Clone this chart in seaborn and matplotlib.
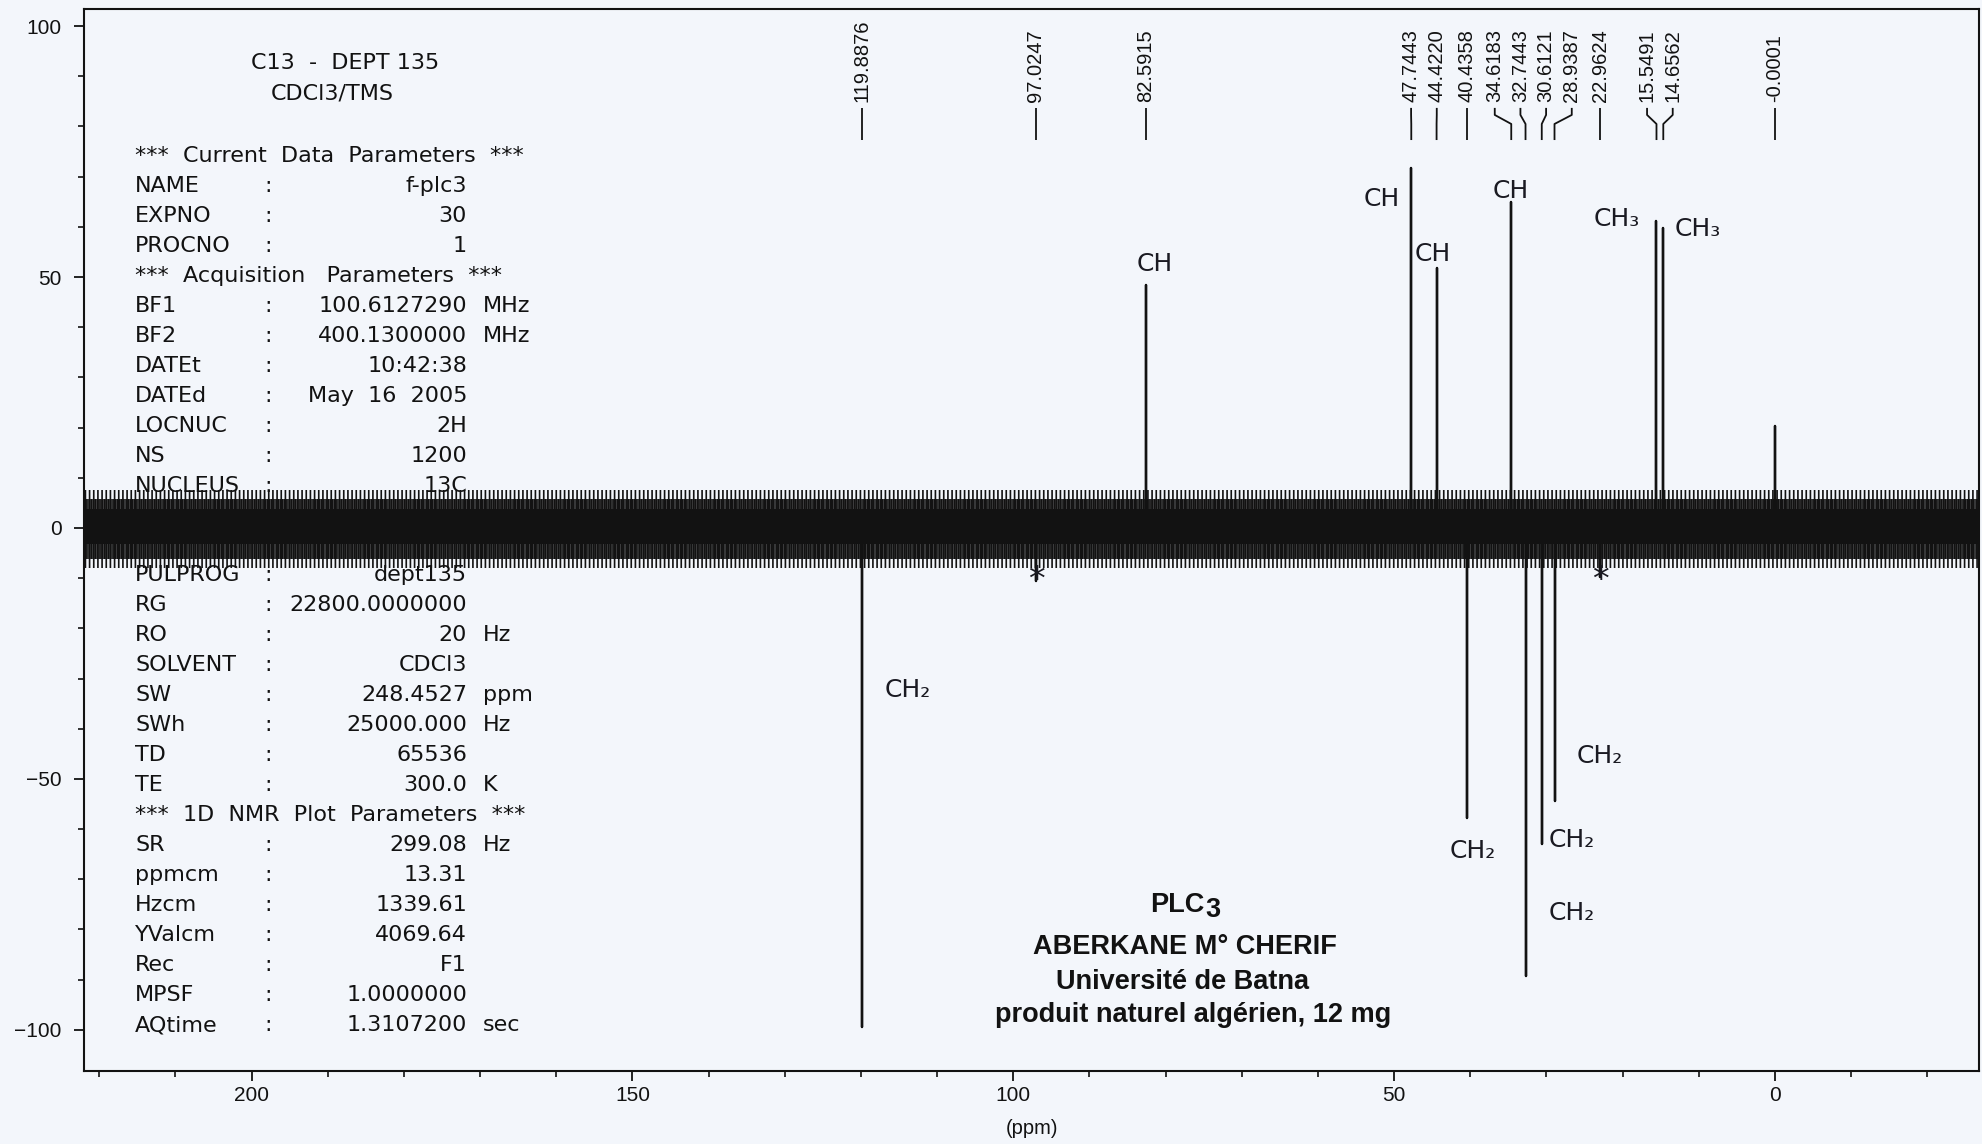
import matplotlib
matplotlib.use("Agg")
import matplotlib.pyplot as plt
from matplotlib.ticker import MultipleLocator, FixedLocator
import numpy as np
import pandas as pd
import seaborn as sns

# ---------------- spectrum data ----------------
peak_ppm = [119.8876, 97.0247, 82.5915, 47.7443, 44.4220, 40.4358, 34.6183,
            32.7443, 30.6121, 28.9387, 22.9624, 15.5491, 14.6562, -0.0001]
peak_int = [-99.5, -10.5, 48.5, 71.7, 51.8, -57.8, 64.9,
            -89.3, -63.0, -54.3, -9.7, 61.1, 59.8, 20.3]
multiplicity = ["CH₂", "", "CH", "CH", "CH", "CH₂", "CH",
                "CH₂", "CH₂", "CH₂", "", "CH₃", "CH₃", ""]
artefact_ppm = [97.0247, 22.9624]

x_ticks = [200, 150, 100, 50, 0]
y_ticks = [100, 50, 0, -50, -100]

title_lines = ["C13  -  DEPT 135", "CDCl3/TMS"]
block_1 = [
    ("***  Current  Data  Parameters  ***", None, None, None),
    ("NAME", ":", "f-plc3", ""),
    ("EXPNO", ":", "30", ""),
    ("PROCNO", ":", "1", ""),
    ("***  Acquisition   Parameters  ***", None, None, None),
    ("BF1", ":", "100.6127290", "MHz"),
    ("BF2", ":", "400.1300000", "MHz"),
    ("DATEt", ":", "10:42:38", ""),
    ("DATEd", ":", "May  16  2005", ""),
    ("LOCNUC", ":", "2H", ""),
    ("NS", ":", "1200", ""),
    ("NUCLEUS", ":", "13C", ""),
]
block_2 = [
    ("PULPROG", ":", "dept135", ""),
    ("RG", ":", "22800.0000000", ""),
    ("RO", ":", "20", "Hz"),
    ("SOLVENT", ":", "CDCl3", ""),
    ("SW", ":", "248.4527", "ppm"),
    ("SWh", ":", "25000.000", "Hz"),
    ("TD", ":", "65536", ""),
    ("TE", ":", "300.0", "K"),
    ("***  1D  NMR  Plot  Parameters  ***", None, None, None),
    ("SR", ":", "299.08", "Hz"),
    ("ppmcm", ":", "13.31", ""),
    ("Hzcm", ":", "1339.61", ""),
    ("YValcm", ":", "4069.64", ""),
    ("Rec", ":", "F1", ""),
    ("MPSF", ":", "1.0000000", ""),
    ("AQtime", ":", "1.3107200", "sec"),
]
sample_lines = ["ABERKANE M° CHERIF", "Université de Batna",
                "produit naturel algérien, 12 mg"]

# ---------------- style ----------------
sns.set_theme(style="ticks")
ink = "#121212"
paper = "#f3f6fb"
plt.rcParams["font.family"] = ["DejaVu Sans"]
plt.rcParams["hatch.linewidth"] = 1.2
plt.rcParams["hatch.color"] = ink

fig = plt.figure(figsize=(19.83, 11.44), dpi=100, facecolor=paper)
ax = fig.add_axes([0.0424, 0.0638, 0.9556, 0.9283])
ax.set_facecolor(paper)

# baseline noise band: dense core with a ragged-looking fringe
ax.axhspan(-8.0, 7.6, facecolor="none", edgecolor=ink, hatch="|" * 4, lw=0, zorder=1)
ax.axhspan(-6.2, 5.8, facecolor="none", edgecolor=ink, hatch="|" * 9, lw=0, zorder=1)
ax.axhspan(-3.2, 3.8, facecolor=ink, lw=0, zorder=1.5)

# stick spectrum
rows = []
for p, h in sorted(zip(peak_ppm, peak_int), key=lambda t: -t[0]):
    rows += [(p, 0.0), (p, h), (p, 0.0)]
spec = pd.DataFrame(rows, columns=["ppm", "intensity"])
sns.lineplot(data=spec, x="ppm", y="intensity", sort=False, estimator=None,
             color=ink, lw=1.7, ax=ax, zorder=2)

ax.set_xlim(222.0, -26.8)
ax.set_ylim(-108.2, 103.4)

# axes, ticks
for s in ax.spines.values():
    s.set_color(ink)
    s.set_linewidth(1.5)
ax.xaxis.set_major_locator(FixedLocator(x_ticks))
ax.yaxis.set_major_locator(FixedLocator(y_ticks))
ax.xaxis.set_minor_locator(MultipleLocator(10))
ax.yaxis.set_minor_locator(MultipleLocator(10))
ax.set_xticklabels([str(v) for v in x_ticks])
ax.set_yticklabels(["−" + str(-v) if v < 0 else str(v) for v in y_ticks])
ax.tick_params(which="major", direction="out", length=7, width=1.3, colors=ink,
               labelsize=15, labelcolor=ink)
ax.tick_params(axis="y", which="major", pad=9)
ax.tick_params(axis="x", which="major", pad=4)
ax.tick_params(which="minor", direction="out", length=4, width=1.2, colors=ink)
for lab in ax.get_xticklabels() + ax.get_yticklabels():
    lab.set_family(["Liberation Sans", "DejaVu Sans"])
ax.set_xlabel("(ppm)", fontsize=14.5, color=ink, labelpad=10,
              family=["Liberation Sans", "DejaVu Sans"])
ax.set_ylabel("")

# peak position labels, spread apart where crowded
def spread(vals, gap):
    groups = [[v] for v in sorted(vals, reverse=True)]
    def place(g):
        c = np.mean(g)
        n = len(g)
        return [c + gap * ((n - 1) / 2 - i) for i in range(n)]
    changed = True
    while changed:
        changed = False
        for i in range(len(groups) - 1):
            a, b = place(groups[i]), place(groups[i + 1])
            if a[-1] - b[0] < gap:
                groups[i] = groups[i] + groups[i + 1]
                del groups[i + 1]
                changed = True
                break
    out = {}
    for g in groups:
        for v, pos in zip(g, place(g)):
            out[v] = pos
    return out

label_pos = spread(peak_ppm, 3.37)
y_txt, y_a, y_b, y_c, y_d = 84.9, 83.7, 82.3, 80.5, 77.3
for p in peak_ppm:
    lx = label_pos[p]
    ax.text(lx, y_txt, f"{p:.4f}", rotation=90, ha="center", va="bottom",
            fontsize=14.5, color=ink,
            family=["Liberation Sans Narrow", "Liberation Sans"])
    ax.plot([lx, lx, p, p], [y_a, y_b, y_c, y_d], color=ink, lw=1.3,
            solid_capstyle="butt")

# hand-written multiplicity notes
hand_layout = {119.8876: (-6.0, -32.3), 82.5915: (-1.2, 52.6),
               47.7443: (3.9, 65.5), 44.4220: (0.5, 54.6),
               40.4358: (-0.8, -64.3), 34.6183: (0.0, 67.1),
               32.7443: (-6.1, -76.7), 30.6121: (-4.0, -62.2),
               28.9387: (-6.0, -45.4), 15.5491: (5.2, 61.6),
               14.6562: (-4.5, 59.6)}
hand_font = dict(fontsize=18, color="#1a1a22", ha="center", va="center",
                 family=["DejaVu Sans"])
for p, m in zip(peak_ppm, multiplicity):
    if m:
        dx, y = hand_layout[p]
        ax.text(p + dx, y, m, **hand_font)
for p in artefact_ppm:
    ax.text(p, -10.5, "*", fontsize=24, color="#1a1a22", ha="center", va="center",
            family=["DejaVu Sans"])

# parameter listing
block_font = dict(fontsize=16, color=ink, family=["DejaVu Sans"])
def to_frac(px_y):
    return (1071 - px_y) / 1062

ax.text(0.1377, to_frac(69), title_lines[0], transform=ax.transAxes,
        ha="center", va="baseline", **block_font)
ax.text(0.1309, to_frac(99), title_lines[1], transform=ax.transAxes,
        ha="center", va="baseline", **block_font)

def draw_block(rows_, first_px):
    for i, (key, colon, val, unit) in enumerate(rows_):
        yb = to_frac(first_px + 30 * i + 7)
        ax.text(0.0269, yb, key, transform=ax.transAxes, ha="left",
                va="baseline", **block_font)
        if colon is None:
            continue
        ax.text(0.0971, yb, colon, transform=ax.transAxes, ha="center",
                va="baseline", **block_font)
        ax.text(0.2021, yb, val, transform=ax.transAxes, ha="right",
                va="baseline", **block_font)
        if unit:
            ax.text(0.2106, yb, unit, transform=ax.transAxes, ha="left",
                    va="baseline", **block_font)

draw_block(block_1, 155)
draw_block(block_2, 574)

# sample caption
cap_font = dict(fontsize=19.5, color=ink, weight="bold",
                family=["Liberation Sans", "DejaVu Sans"])
plc = ax.text(0.577, to_frac(912), "PLC", transform=ax.transAxes,
              ha="center", va="baseline", **cap_font)
ax.annotate("3", xy=(1, 0), xycoords=plc, xytext=(0.5, -3.5),
            textcoords="offset points", ha="left", va="bottom", **cap_font)
for txt, xf, ypx in zip(sample_lines, [0.581, 0.5797, 0.5855], [954, 989, 1022]):
    ax.text(xf, to_frac(ypx), txt, transform=ax.transAxes, ha="center",
            va="baseline", **cap_font)

fig.savefig("out.png", dpi=100, facecolor=paper)
